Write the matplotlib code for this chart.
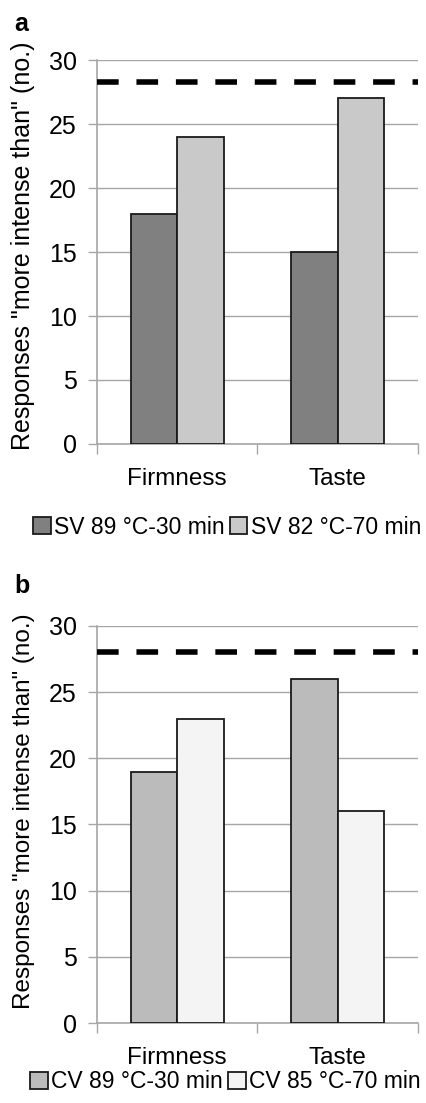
import matplotlib.pyplot as plt
import numpy as np

plt.rcParams["font.family"] = ["Liberation Sans", "DejaVu Sans"]

# panel data
categories = ["Firmness", "Taste"]
a_labels = ["SV 89 °C-30 min", "SV 82 °C-70 min"]
a_first = [18, 15]
a_second = [24, 27]
a_threshold = 28.3
b_labels = ["CV 89 °C-30 min", "CV 85 °C-70 min"]
b_first = [19, 26]
b_second = [23, 16]
b_threshold = 28
yticks = [0, 5, 10, 15, 20, 25, 30]

GRID = "#a6a6a6"
ylabel = 'Responses "more intense than" (no.)'


def draw_panel(fig, rect, letter, letter_y, first, second, labels, colors, thr,
               legend_xy, label_y, label_size):
    ax = fig.add_axes(rect)
    x = np.arange(len(categories))
    w = 0.29
    b1 = ax.bar(x - w / 2, first, w, color=colors[0], edgecolor="#1a1a1a",
                linewidth=1.3, zorder=3, label=labels[0])
    b2 = ax.bar(x + w / 2, second, w, color=colors[1], edgecolor="#1a1a1a",
                linewidth=1.3, zorder=3, label=labels[1])
    ax.axhline(thr, color="black", lw=4, dashes=(3.9, 3.2), zorder=4)

    ax.set_xlim(-0.5, 1.5)
    ax.set_ylim(0, 30)
    ax.set_yticks(yticks)
    ax.tick_params(axis="y", labelsize=18, length=6.5, color=GRID, width=1, pad=8)
    ax.set_xticks(x)
    ax.set_xticklabels(categories, fontsize=17.5)
    ax.tick_params(axis="x", length=0, pad=17)
    # tick marks at category boundaries
    ax.set_xticks([-0.5, 0.5, 1.5], minor=True)
    ax.tick_params(axis="x", which="minor", length=7, color=GRID, width=1)
    ax.grid(axis="y", color=GRID, lw=1, zorder=0)
    for s in ["top", "right"]:
        ax.spines[s].set_visible(False)
    for s in ["left", "bottom"]:
        ax.spines[s].set_color(GRID)
        ax.spines[s].set_linewidth(1.2)
    ax.set_ylabel(ylabel, fontsize=label_size)
    ax.yaxis.set_label_coords(-0.193, label_y)

    fig.text(0.033, letter_y, letter, fontsize=18, fontweight="bold",
             va="baseline")
    fig.legend(handles=[b1, b2], loc="center", bbox_to_anchor=legend_xy,
               ncol=2, frameon=False, fontsize=16.5, handlelength=0.78,
               handleheight=0.78, handletextpad=0.15, columnspacing=0.2,
               borderaxespad=0, borderpad=0)
    return ax


fig = plt.figure(figsize=(4.27, 11.03), dpi=100)
draw_panel(fig, [0.227, 0.5975, 0.752, 0.348], "a", 1 - 31 / 1103,
           a_first, a_second, a_labels, ["#808080", "#c8c9c8"], a_threshold,
           (0.532, 1 - 527 / 1103), 0.516, 18)
draw_panel(fig, [0.227, 0.0725, 0.752, 0.360], "b", 1 - 593 / 1103,
           b_first, b_second, b_labels, ["#bbbbbb", "#f4f4f4"], b_threshold,
           (0.528, 1 - 1082 / 1103), 0.534, 17.5)

fig.savefig("out.png", dpi=100)
